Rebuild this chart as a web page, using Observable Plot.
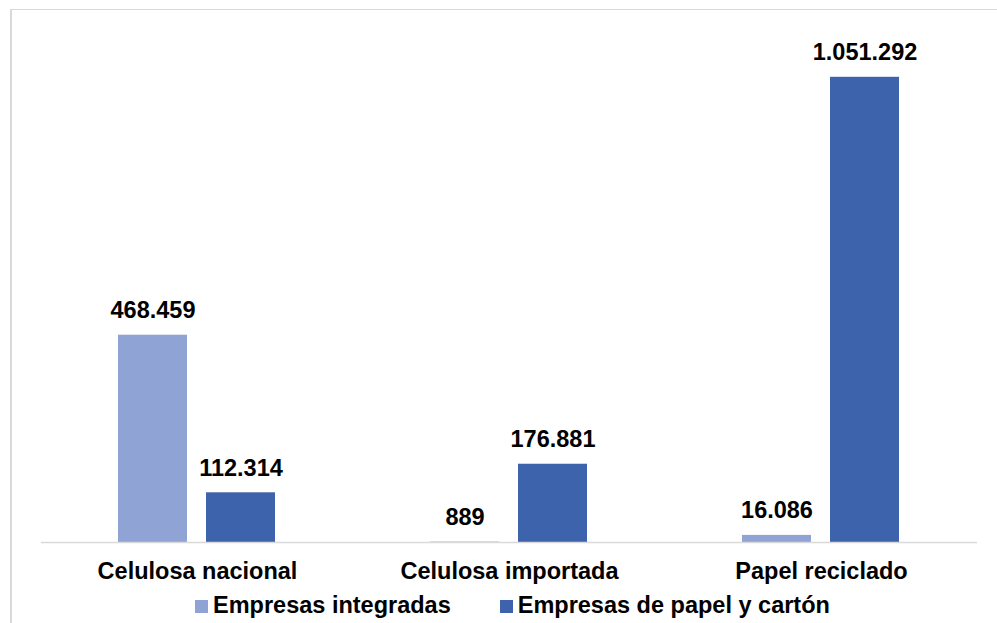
<!DOCTYPE html>
<html>
<head>
<meta charset="utf-8">
<script src="https://cdn.jsdelivr.net/npm/d3@7"></script>
<script src="https://cdn.jsdelivr.net/npm/@observablehq/plot@0.6"></script>
<style>
  html, body { margin: 0; padding: 0; background: #fff; }
  body { width: 997px; height: 623px; overflow: hidden; position: relative; font-family: "Liberation Sans", Arial, sans-serif; }
  #frame { position: absolute; left: 10px; top: 9px; width: 1200px; height: 800px; border-top: 1px solid #d9d9d9; border-left: 2px solid #d9d9d9; pointer-events: none; }
  #chart svg { display: block; }
  #legend { display: flex; gap: 49px; padding-left: 195px; height: 33px; line-height: 30px; font-size: 23.5px; font-weight: bold; color: #000; }
  #legend .sw { display: inline-block; width: 13px; height: 13px; margin-right: 5px; vertical-align: baseline; }
</style>
</head>
<body>
<div id="chart"></div>
<div id="legend"></div>
<div id="frame"></div>
<script>
const categories = ["Celulosa nacional", "Celulosa importada", "Papel reciclado"];
const series = ["Empresas integradas", "Empresas de papel y cartón"];
const integradas = [468459, 889, 16086];
const papelCarton = [112314, 176881, 1051292];
const colors = ["#8FA3D5", "#3C63AC"];

const data = [];
categories.forEach((c, i) => {
  data.push({category: c, series: series[0], value: integradas[i]});
  data.push({category: c, series: series[1], value: papelCarton[i]});
});

const fmt = d3.formatLocale({thousands: ".", decimal: ",", grouping: [3], currency: ["", ""]}).format(",d");

const chart = Plot.plot({
  width: 997,
  height: 590,
  marginLeft: 40,
  marginRight: 19,
  marginTop: 11,
  marginBottom: 48,
  style: {fontFamily: "'Liberation Sans', Arial, sans-serif", color: "#000", background: "transparent"},
  fx: {domain: categories, padding: 0, label: null},
  x: {domain: series, paddingInner: 0.2135, paddingOuter: 0.86, axis: null},
  y: {domain: [0, 1200000], axis: null},
  color: {domain: series, range: colors},
  marks: [
    Plot.barY(data, {fx: "category", x: "series", y: "value", fill: "series"}),
    Plot.ruleY([0], {stroke: "#d9d9d9", strokeWidth: 1.5}),
    Plot.text(data, {fx: "category", x: "series", y: "value", text: d => fmt(d.value), dy: -17, lineAnchor: "bottom", fontSize: 23.5, fontWeight: "bold", fill: "#000"}),
    Plot.axisFx({anchor: "bottom", tickSize: 0, tickPadding: 20, fontSize: 23.5, fontWeight: "bold", fill: "#000", label: null})
  ]
});
document.getElementById("chart").appendChild(chart);

const legend = document.getElementById("legend");
series.forEach((s, i) => {
  const item = document.createElement("div");
  const sw = document.createElement("span");
  sw.className = "sw";
  sw.style.background = colors[i];
  item.appendChild(sw);
  item.appendChild(document.createTextNode(s));
  legend.appendChild(item);
});
</script>
</body>
</html>
